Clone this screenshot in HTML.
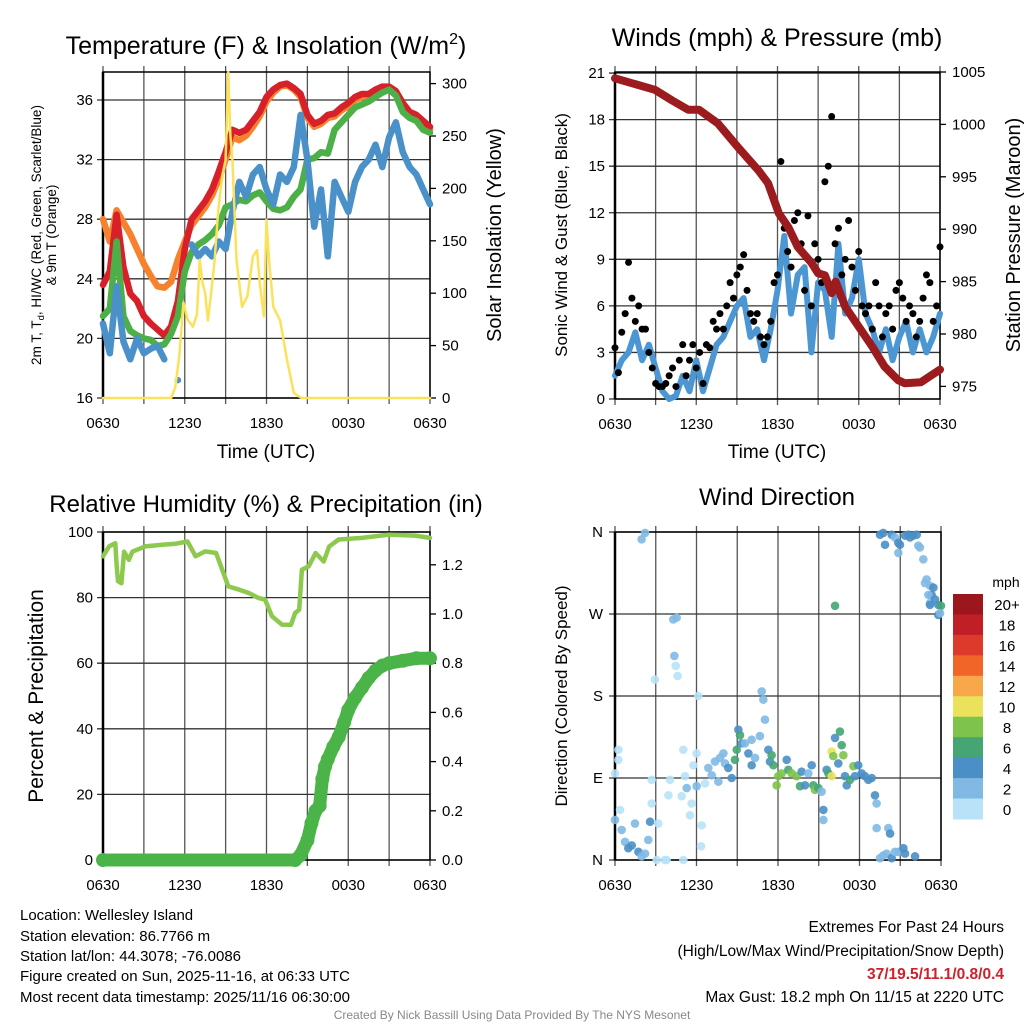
<!DOCTYPE html>
<html><head><meta charset="utf-8"><style>
html,body{margin:0;padding:0;background:#fff;}
svg{display:block;font-family:"Liberation Sans",Arial,sans-serif;}
</style></head><body>
<svg id="s" width="1024" height="1024" viewBox="0 0 1024 1024" xmlns="http://www.w3.org/2000/svg">
<text x="266" y="54" font-size="25" text-anchor="middle">Temperature (F) &amp; Insolation (W/m<tspan font-size="16" dy="-10">2</tspan><tspan dy="10">)</tspan></text>
<text x="777" y="46" font-size="25" text-anchor="middle">Winds (mph) &amp; Pressure (mb)</text>
<text x="266" y="512" font-size="24" text-anchor="middle">Relative Humidity (%) &amp; Precipitation (in)</text>
<text x="777" y="505" font-size="24" text-anchor="middle">Wind Direction</text>
<text transform="translate(41,235) rotate(-90)" font-size="13.5" text-anchor="middle">2m T, T<tspan font-size="9.5" dy="3">d</tspan><tspan dy="-3">, HI/WC (Red, Green, Scarlet/Blue)</tspan></text>
<text transform="translate(56,235) rotate(-90)" font-size="13.5" text-anchor="middle">&amp; 9m T (Orange)</text>
<text transform="translate(501,235) rotate(-90)" font-size="20" text-anchor="middle">Solar Insolation (Yellow)</text>
<text transform="translate(567,235) rotate(-90)" font-size="17" text-anchor="middle">Sonic Wind &amp; Gust (Blue, Black)</text>
<text transform="translate(1020,235) rotate(-90)" font-size="20" text-anchor="middle">Station Pressure (Maroon)</text>
<text transform="translate(43,696) rotate(-90)" font-size="21" text-anchor="middle">Percent &amp; Precipitation</text>
<text transform="translate(567,696) rotate(-90)" font-size="17" text-anchor="middle">Direction (Colored By Speed)</text>
<text x="266" y="458" font-size="19" text-anchor="middle">Time (UTC)</text>
<text x="777" y="458" font-size="19" text-anchor="middle">Time (UTC)</text>
<g font-size="15">
<text x="20" y="920">Location: Wellesley Island</text>
<text x="20" y="941">Station elevation: 86.7766 m</text>
<text x="20" y="961">Station lat/lon: 44.3078; -76.0086</text>
<text x="20" y="981">Figure created on Sun, 2025-11-16, at 06:33 UTC</text>
<text x="20" y="1002">Most recent data timestamp: 2025/11/16 06:30:00</text>
</g>
<g font-size="15.5" text-anchor="end">
<text x="1004" y="932">Extremes For Past 24 Hours</text>
<text x="1004" y="956">(High/Low/Max Wind/Precipitation/Snow Depth)</text>
<text x="1004" y="979" fill="#d0202a" font-weight="bold">37/19.5/11.1/0.8/0.4</text>
<text x="1004" y="1002">Max Gust: 18.2 mph On 11/15 at 2220 UTC</text>
</g>
<text x="512" y="1019" font-size="12" fill="#888" text-anchor="middle">Created By Nick Bassill Using Data Provided By The NYS Mesonet</text>
<g id="g"></g>
</svg>
<script>
// ---- Panel 1 data (0.5 h steps from 0630 UTC) ----
const tempStep = 0.5;
const tRed = [23.6,24.5,28.3,24.8,23.0,22.5,21.5,21.0,20.6,20.2,20.8,22.5,26.0,28.0,28.6,29.2,30.0,31.2,32.5,34.0,33.8,34.0,34.6,35.2,36.2,36.7,37.0,37.1,36.8,36.4,35.0,34.4,34.6,35.0,35.1,35.5,35.8,36.2,36.4,36.4,36.7,36.9,36.9,36.6,35.8,35.2,35.0,34.6,34.2];
const tOrange = [28.0,26.5,28.6,27.8,27.0,26.0,25.0,24.2,23.5,23.4,23.8,25.3,26.5,27.6,28.2,28.8,29.6,30.7,32.0,33.5,33.3,33.6,34.2,34.9,35.9,36.5,36.9,37.0,36.7,36.2,34.8,34.2,34.4,34.8,34.9,35.3,35.6,36.0,36.2,36.2,36.5,36.7,36.7,36.4,35.6,35.0,34.8,34.4,34.0];
const tGreen = [21.5,22.0,26.5,21.5,20.5,20.2,20.0,19.9,19.5,19.6,20.3,21.5,24.5,25.8,26.3,26.6,27.0,27.6,28.8,29.0,29.3,29.2,29.6,29.8,29.2,28.7,28.6,28.8,29.5,30.0,32.0,32.1,32.5,32.4,34.0,34.5,35.0,35.5,35.7,35.9,36.2,36.5,36.7,36.3,35.2,34.8,34.6,34.0,33.8];
const tBlue = [21.0,19.0,23.5,19.8,18.6,20.0,19.0,19.3,19.5,18.6,null,17.2,null,26.3,25.5,26.0,25.5,26.5,26.0,28.5,30.5,29.5,31.0,31.5,30.0,29.0,31.0,30.5,31.5,35.0,32.0,27.5,30.0,25.5,30.5,29.5,28.5,30.5,31.5,32.0,33.0,31.5,33.5,34.5,32.5,31.5,31.0,30.0,29.0];
const solarHours = [0,5.0,5.3,5.6,5.9,6.2,6.6,6.9,7.1,7.3,7.5,7.7,7.9,8.2,8.4,8.6,8.8,9.0,9.2,9.35,9.5,9.8,10.2,10.6,11.0,11.3,11.5,11.8,12.0,12.2,12.5,13.0,13.5,14.0,14.3,14.6,24];
const solarVals = [0,0,10,40,91,75,68,80,132,110,100,74,95,132,170,196,215,227,311,250,227,132,87,97,135,141,110,78,170,130,87,74,37,5,2,0,0];
const tempTicks = [16,20,24,28,32,36];
const solarTicks = [0,50,100,150,200,250,300];
const timeLabels = ["0630","1230","1830","0030","0630"];
// ---- Panel 2 data ----
const windStep = 0.5;
const windVals = [1.5,2.5,3.0,4.3,2.5,3.5,2.0,0.5,0,0.2,1.5,0.5,2.5,0.5,2.0,3.5,4.0,5.0,6.0,6.5,4.0,4.5,2.5,4.5,7.0,10.5,5.5,8.0,8.5,3.0,7.5,7.0,4.0,10.0,5.5,6.5,9.0,5.5,4.5,3.0,4.5,2.5,4.0,5.0,3.0,4.5,3.0,4.0,5.5];
const gustStep = 0.25;
const gustVals = [3.3,1.7,4.3,5.5,8.8,6.5,5.0,6.0,4.5,4.5,3.0,2.0,1.0,0.8,0.8,1.0,1.5,2.0,0.8,2.5,3.5,1.5,2.5,3.5,2.0,3.0,1.0,3.5,3.3,5.0,4.5,5.5,4.5,6.0,7.5,6.5,8.0,8.5,9.3,7.0,5.5,5.0,5.5,4.0,3.5,4.0,5.0,7.5,8.0,15.3,11.0,9.5,8.5,11.5,12.0,10.0,7.0,11.8,6.0,10.0,9.0,7.5,14.0,15.0,18.2,10.0,11.0,8.0,9.0,11.5,8.5,7.0,9.5,6.0,5.5,6.0,4.5,7.5,6.0,4.0,5.5,6.0,4.5,7.0,7.5,6.5,5.0,6.0,5.5,4.0,5.0,6.5,8.0,7.5,5.0,6.0,9.8];
const presHours = [0,2.95,4.2,5.4,6.2,7.6,9.1,10.6,11.3,12.1,12.8,13.5,14.5,15.0,15.5,16.0,16.3,17.0,18.0,19.0,19.9,20.9,21.4,22.6,23.4,24];
const presVals = [1004.4,1003.3,1002.3,1001.4,1001.4,1000.1,997.8,995.6,994.4,991.5,990.2,988.3,986.8,985.8,985.6,983.9,985.0,982.6,980.7,978.8,976.9,975.6,975.3,975.4,976.1,976.6];
const windTicks = [0,3,6,9,12,15,18,21];
const presTicks = [975,980,985,990,995,1000,1005];
// ---- Panel 3 data ----
const rhHours = [0,0.45,0.9,1.0,1.1,1.35,1.55,1.9,2.15,3.1,4.35,5.3,6.2,6.8,7.5,8.3,8.75,9.2,10,10.7,11.4,11.9,12.4,13.15,13.8,14.1,14.4,14.6,15.1,15.6,16.2,16.6,17.3,19,21,22.9,24];
const rhVals = [92.6,95.6,96.6,90,85,84.4,94,91.5,94,95.6,96.1,96.4,97.1,92.6,94.1,93.6,88.5,83.4,82.4,81.4,79.9,79.4,74.3,71.7,71.7,75.3,76.3,88.5,89.5,93.6,91,95.6,97.7,98.2,99.2,98.9,98.2];
const precipHours = [0,14.1,14.5,15.0,15.3,15.6,15.9,16.1,16.3,16.5,16.9,17.3,17.7,18.0,18.5,19.0,19.5,20.0,20.5,21.0,22.0,23.0,24];
const precipVals = [0,0,0.02,0.08,0.15,0.2,0.22,0.33,0.38,0.41,0.46,0.5,0.56,0.61,0.66,0.70,0.74,0.77,0.79,0.80,0.81,0.82,0.82];
const rhTicks = [0,20,40,60,80,100];
const precipTicks = [0,0.2,0.4,0.6,0.8,1.0,1.2];
// ---- Panel 4 data ----
const dirHours = [0.0,0.25,0.25,0.37,0.0,0.49,0.74,0.98,1.23,1.47,1.72,1.96,2.21,2.45,2.58,1.96,2.21,2.94,2.70,2.70,3.19,3.07,3.68,3.80,4.05,3.93,4.29,4.54,4.37,4.47,4.61,4.91,5.03,5.03,5.15,5.28,5.52,5.64,5.77,6.01,6.13,6.38,6.33,6.01,6.63,6.87,7.12,7.36,7.61,7.73,7.98,8.10,8.34,8.59,8.83,8.96,9.08,9.20,9.33,9.57,9.82,10.06,10.06,10.31,10.67,10.80,10.92,11.04,11.29,11.41,11.53,11.66,12.02,11.90,12.27,12.64,12.76,13.01,13.37,13.62,13.74,13.99,14.23,14.48,14.60,14.72,14.97,15.21,15.34,15.34,15.58,15.71,15.95,16.07,16.20,16.44,16.56,16.69,16.81,15.95,16.20,16.93,17.06,17.30,17.55,17.67,17.91,18.16,18.40,18.65,18.90,19.14,19.26,19.26,19.51,19.75,20.00,20.12,20.25,20.37,20.61,20.86,21.23,21.35,22.09,19.51,19.75,19.88,20.37,20.61,20.86,20.86,20.98,21.35,21.60,21.72,21.96,22.21,22.33,22.45,22.70,22.82,22.94,23.19,23.31,23.44,23.07,23.19,23.56,23.80,23.19,24.0,23.80,23.93];
const dirVals = [95,121,110,55,44,33,20,13,16,40,9,4,7,22,42,352,359,198,88,62,40,0,0,0,88,71,264,266,224,213,202,70,0,121,92,79,49,62,104,117,180,38,15,81,84,101,93,108,86,112,117,106,101,90,110,121,143,137,128,128,117,132,104,112,136,185,176,154,121,108,115,104,92,82,95,110,99,95,92,81,97,82,95,104,82,77,79,75,55,44,99,95,119,114,134,106,141,126,115,92,279,92,82,88,103,92,104,95,92,88,90,71,62,35,2,5,7,35,29,2,9,9,13,7,4,357,359,346,357,354,348,337,346,356,357,354,356,357,345,343,330,304,308,301,291,299,291,282,286,280,280,279,269,271];
const dirSpeed = [1,1,1,1,3,3,3,5,5,3,5,3,3,3,5,3,2.5,1,1,1,0.5,0.5,0.5,0.5,1,1,2.5,2.5,3,1,1,1,0.5,0.5,1,3,1,1,1,1,0.5,1,0.5,3,1,2.5,3,2.5,3,3,2.5,3,5,5,7,7,5,7,5,3,5,2.5,5,3,2.5,2.5,2.5,2.5,5,5,7,7,8.5,8.5,9,5,7,8.5,8.5,7,5,5,3,5,7,8.5,7,3,5,2.5,5,7,10.5,8.5,5,5,7,7,8.5,10.5,7,5,5,7,8.5,5,5,5,5,5,5,5,2.5,2.5,3,3,2.5,2.5,5,5,2.5,3,5,5,5,5,5,5,5,2.5,5,2.5,5,5,5,5,5,5,2.5,2.5,2.5,2.5,2.5,3,5,5,3,2.5,5,5,5,7,5,3];
const dirLabels = ["N","E","S","W","N"];
const cbarLabels = ["20+","18","16","14","12","10","8","6","4","2","0"];
const cbarColors = ["#9b171d","#c01f28","#de3a2c","#f26529","#f8a84a","#e9e25a","#7ec34b","#45a673","#4a8fc6","#7fb9e4","#b8e2f8"];

const NS="http://www.w3.org/2000/svg";
const G=document.getElementById('g');
function mk(tag,attrs,parent){const e=document.createElementNS(NS,tag);for(const k in attrs)e.setAttribute(k,attrs[k]);(parent||G).appendChild(e);return e;}
function txt(x,y,s,size,anchor){const e=mk('text',{x:x,y:y,'font-size':size,'text-anchor':anchor||'middle'});e.textContent=s;return e;}

const P1={l:103,r:430,t:72,b:398}, P2={l:615,r:940,t:72,b:399}, P3={l:103,r:430,t:532,b:860}, P4={l:615,r:941,t:532,b:860};
const xh=(P,h)=>P.l+h/24*(P.r-P.l);
const yTemp=v=>398-(v-16)*14.9;
const ySol=v=>398-v*1.048;
const yWind=v=>399-v*15.52;
const yPres=v=>72+(1005-v)*10.48;
const yRH=v=>860-v*3.28;
const yPrec=v=>860-v*75*3.28;
const yDir=v=>860-v*(328/360);

function frame(P,name,hticks,yfn){
  const g=mk('g',{});
  
  
  for(let i=0;i<=8;i++){const x=P.l+i*(P.r-P.l)/8;mk('line',{x1:x,y1:P.t-6,x2:x,y2:P.b+6,stroke:'#555','stroke-width':1.3},g);}
  hticks.forEach(v=>{const y=yfn(v);mk('line',{x1:P.l-6,y1:y,x2:P.r,y2:y,stroke:'#333','stroke-width':1.3},g);});
  mk('rect',{x:P.l,y:P.t,width:P.r-P.l,height:P.b-P.t,fill:'none',stroke:'#000','stroke-width':1.5},g);
  mk('line',{x1:P.l,y1:P.t,x2:P.l,y2:P.b,stroke:'#000','stroke-width':2.5},g);
  timeLabels.forEach((s,i)=>{const t=txt(P.l+i*(P.r-P.l)/4,P.b+30,s,15);});
}
function rightAxis(P,ticks,fn,fmt){
  ticks.forEach(v=>{const y=fn(v);mk('line',{x1:P.r,y1:y,x2:P.r+6,y2:y,stroke:'#000','stroke-width':1.3});
    const t=txt(P.r+12,y+5,fmt(v),15,'start');});
}
function leftLabels(P,ticks,fn,fmt){
  ticks.forEach(v=>{const t=txt(P.l-10,fn(v)+5,fmt(v),15,'end');});
}
function line(hours,vals,P,yfn,color,w,name){
  let segs=[],cur=[];
  vals.forEach((v,i)=>{if(v===null){if(cur.length)segs.push(cur);cur=[];}else cur.push([xh(P,hours[i]),yfn(v)]);});
  if(cur.length)segs.push(cur);
  const g=mk('g',{});
  
  
  segs.forEach(s=>{
    if(s.length===1){mk('circle',{cx:s[0][0],cy:s[0][1],r:w/2,fill:color},g);}
    else mk('polyline',{points:s.map(p=>p[0].toFixed(1)+','+p[1].toFixed(1)).join(' '),fill:'none',stroke:color,'stroke-width':w,'stroke-linejoin':'round','stroke-linecap':'round'},g);
  });
  return g;
}
const stepHours=(arr,st)=>arr.map((_,i)=>i*st);

// Panel 1
frame(P1,'temp',tempTicks,yTemp);
leftLabels(P1,tempTicks,yTemp,v=>v);
rightAxis(P1,solarTicks,ySol,v=>v);
line(stepHours(tOrange,tempStep),tOrange,P1,yTemp,'#f6822d',6.5,'series-9m-temp');
line(stepHours(tRed,tempStep),tRed,P1,yTemp,'#d7202a',6.5,'series-2m-temp');
line(stepHours(tGreen,tempStep),tGreen,P1,yTemp,'#4caf47',6.5,'series-heat-index');
line(stepHours(tBlue,tempStep),tBlue,P1,yTemp,'#4a90c9',6.5,'series-dewpoint');
line(solarHours,solarVals,P1,ySol,'#fbe25a',2.5,'series-insolation');

// Panel 2
frame(P2,'wind',windTicks,yWind);
leftLabels(P2,windTicks,yWind,v=>v);
rightAxis(P2,presTicks,yPres,v=>v);
line(stepHours(windVals,windStep),windVals,P2,yWind,'#4c97d3',6,'series-sonic-wind');
gustVals.forEach((v,i)=>{const c=mk('circle',{cx:xh(P2,i*gustStep),cy:yWind(v),r:3.5,fill:'#000'});
  
  });
line(presHours,presVals,P2,yPres,'#9b1b1e',8,'series-pressure');

// Panel 3
frame(P3,'rh',rhTicks,yRH);
leftLabels(P3,rhTicks,yRH,v=>v);
rightAxis(P3,precipTicks,yPrec,v=>v.toFixed(1));
line(rhHours,rhVals,P3,yRH,'#8dc94f',4.5,'series-rh');
line(precipHours,precipVals,P3,yPrec,'#4bb448',13,'series-precip');
precipVals.forEach((v,i)=>{const c=mk('circle',{cx:xh(P3,precipHours[i]),cy:yPrec(v),r:7,fill:'#4bb448'});
  
  });

// Panel 4
frame(P4,'wdir',[0,90,180,270,360],yDir);
dirLabels.forEach((s,i)=>{const t=txt(P4.l-12,yDir(i*90)+5,s,15,'end');});
function spColor(s){const idx=Math.min(10,Math.floor(s/2));return cbarColors[10-idx];}
dirVals.forEach((d,i)=>{const c=mk('circle',{cx:xh(P4,dirHours[i]),cy:yDir(d),r:4.3,fill:spColor(dirSpeed[i]),'fill-opacity':0.9});
  
  });
const cb=mk('g',{});


const cbTop=594,cbH=(819-594)/11;
cbarColors.forEach((c,i)=>{mk('rect',{x:953,y:cbTop+i*cbH,width:30,height:cbH+0.5,fill:c},cb);
  const t=mk('text',{x:1007,y:cbTop+i*cbH+cbH/2+6,'font-size':15,'text-anchor':'middle'},cb);t.textContent=cbarLabels[i];});
const mt=mk('text',{x:1006,y:587,'font-size':14,'text-anchor':'middle'},cb);mt.textContent='mph';
</script>
</body></html>
